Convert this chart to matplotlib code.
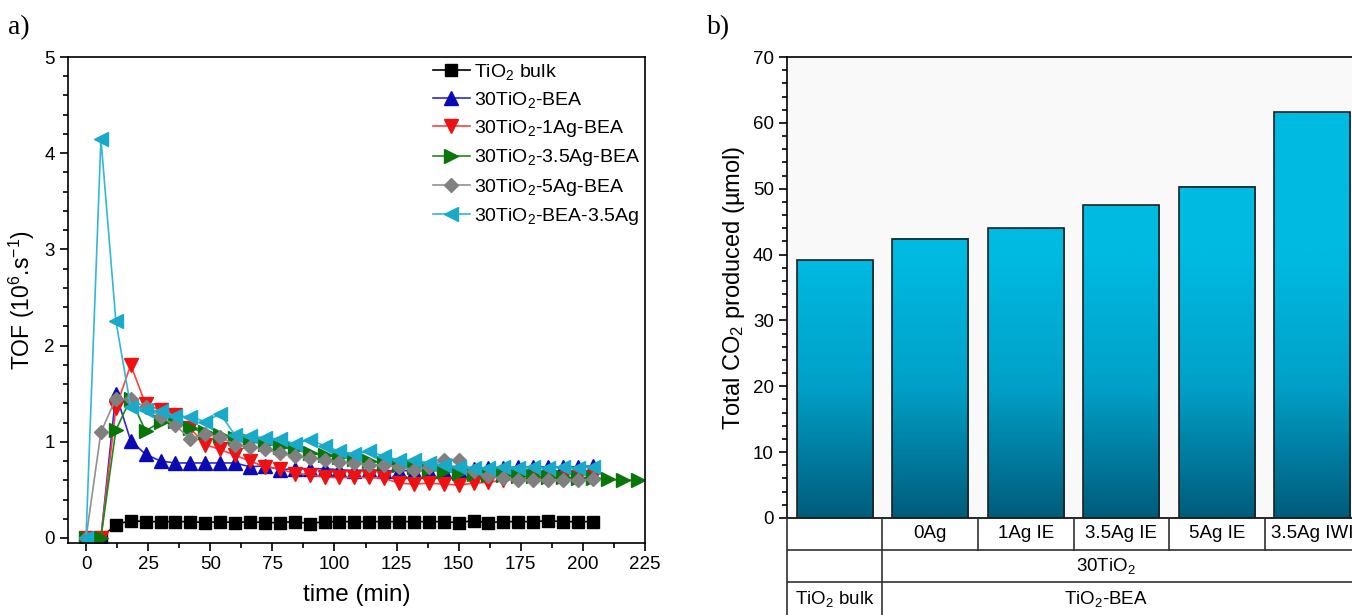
import numpy as np
import matplotlib
matplotlib.use("Agg")
import matplotlib.pyplot as plt
from matplotlib.ticker import MultipleLocator

plt.rcParams['font.family'] = ['Liberation Sans', 'DejaVu Sans']
plt.rcParams['mathtext.fontset'] = 'custom'
plt.rcParams['mathtext.rm'] = 'Liberation Sans'
plt.rcParams['mathtext.it'] = 'Liberation Sans:italic'
plt.rcParams['mathtext.default'] = 'regular'

# ---------------- data: panel a ----------------
time = list(range(0, 205, 6))            # 0..204 min
time_green = list(range(0, 223, 6))      # 0..222 min

tio2_bulk = [0, 0, 0.14, 0.18, 0.17, 0.17, 0.17, 0.17, 0.16, 0.17, 0.16, 0.17, 0.16, 0.16,
             0.17, 0.15, 0.17, 0.17, 0.17, 0.17, 0.17, 0.17, 0.17, 0.17, 0.17, 0.16, 0.18,
             0.16, 0.17, 0.17, 0.17, 0.18, 0.17, 0.17, 0.17]
bea_30 = [0, 0, 1.50, 1.01, 0.87, 0.80, 0.78, 0.78, 0.78, 0.78, 0.78, 0.74, 0.75, 0.71,
          0.72, 0.72, 0.72, 0.71, 0.70, 0.71, 0.70, 0.70, 0.70, 0.70, 0.70, 0.71, 0.72,
          0.73, 0.73, 0.74, 0.74, 0.74, 0.74, 0.74, 0.75]
ag1_bea = [0, 0, 1.35, 1.80, 1.39, 1.33, 1.28, 1.14, 0.97, 0.92, 0.86, 0.80, 0.74, 0.72,
           0.67, 0.66, 0.63, 0.63, 0.63, 0.63, 0.62, 0.57, 0.56, 0.57, 0.56, 0.55, 0.57,
           0.58, 0.60, 0.61, 0.62, 0.62, 0.62, 0.63, 0.63]
ag35_bea = [0, 0, 1.12, 1.45, 1.11, 1.21, 1.22, 1.14, 1.10, 1.07, 1.04, 1.01, 0.98, 0.95,
            0.92, 0.88, 0.86, 0.84, 0.82, 0.80, 0.78, 0.76, 0.74, 0.72, 0.70, 0.68, 0.67,
            0.66, 0.65, 0.64, 0.64, 0.63, 0.63, 0.62, 0.62, 0.61, 0.60, 0.60]
ag5_bea = [0, 1.10, 1.45, 1.44, 1.36, 1.26, 1.17, 1.03, 1.08, 1.05, 0.97, 0.95, 0.92, 0.88,
           0.85, 0.83, 0.81, 0.79, 0.78, 0.76, 0.76, 0.74, 0.71, 0.74, 0.81, 0.81, 0.70,
           0.64, 0.62, 0.60, 0.60, 0.60, 0.60, 0.60, 0.61]
bea_ag35 = [0, 4.15, 2.26, 1.36, 1.33, 1.32, 1.27, 1.26, 1.21, 1.29, 1.07, 1.06, 1.04, 1.03,
            0.98, 1.02, 0.96, 0.90, 0.87, 0.90, 0.85, 0.81, 0.81, 0.78, 0.76, 0.74, 0.73,
            0.73, 0.74, 0.73, 0.74, 0.73, 0.74, 0.73, 0.74]

series_labels = ["TiO$_2$ bulk", "30TiO$_2$-BEA", "30TiO$_2$-1Ag-BEA",
                 "30TiO$_2$-3.5Ag-BEA", "30TiO$_2$-5Ag-BEA", "30TiO$_2$-BEA-3.5Ag"]

# ---------------- data: panel b ----------------
bar_values = [39.1, 42.4, 44.0, 47.5, 50.3, 61.6]
row1_labels = ["", "0Ag", "1Ag IE", "3.5Ag IE", "5Ag IE", "3.5Ag IWI"]
row2_label = "30TiO$_2$"
row3_labels = ["TiO$_2$ bulk", "TiO$_2$-BEA"]

W, H = 1352, 615
fig = plt.figure(figsize=(W / 100, H / 100), dpi=100)

TICK_FS = 13.5
LABEL_FS = 16.5

# ================= panel a =================
ax1 = fig.add_axes([68 / W, 72 / H, 577 / W, 486 / H])
styles = [
    (time, tio2_bulk, 's', 'black', 'black'),
    (time, bea_30, '^', '#0a0ab4', '#2a2ad0'),
    (time, ag1_bea, 'v', '#ee1111', '#ff4040'),
    (time_green, ag35_bea, '>', '#0a760a', '#1a8a1a'),
    (time, ag5_bea, 'D', '#808080', '#909090'),
    (time, bea_ag35, '<', '#19a9c9', '#30b8d8'),
]
for (t, v, m, c, lc), lab in zip(styles, series_labels):
    ms = 9.5
    if m == 'D':
        ms = 7.5
    if m == 's':
        ms = 8
    ax1.plot(t, v, color=lc, lw=1.2, marker=m, markersize=ms, markerfacecolor=c,
             markeredgecolor=c, label=lab)

ax1.set_xlim(-7.25, 225)
ax1.set_ylim(-0.052, 5)
ax1.xaxis.set_major_locator(MultipleLocator(25))
ax1.xaxis.set_minor_locator(MultipleLocator(12.5))
ax1.yaxis.set_major_locator(MultipleLocator(1))
ax1.yaxis.set_minor_locator(MultipleLocator(0.2))
ax1.tick_params(which='both', direction='out', top=False, right=False, labelsize=TICK_FS,
                width=1.2)
ax1.tick_params(which='major', length=6)
ax1.tick_params(which='minor', length=3.5)
for s in ax1.spines.values():
    s.set_linewidth(1.2)
ax1.set_xlabel("time (min)", fontsize=17.5, labelpad=8)
ax1.set_ylabel("TOF (10$^6$.s$^{-1}$)", fontsize=LABEL_FS, labelpad=5)
leg = ax1.legend(loc='upper right', frameon=False, fontsize=14, handlelength=1.9,
                 handletextpad=0.2, labelspacing=0.42, borderaxespad=0.0, borderpad=0.25,
                 bbox_to_anchor=(1.0, 1.0))

fig.text(8 / W, 1 - 28 / H, "a)", family='Liberation Serif', fontsize=20, va='center')
fig.text(707 / W, 1 - 28 / H, "b)", family='Liberation Serif', fontsize=20, va='center')

# ================= panel b =================
ax2 = fig.add_axes([787 / W, 97 / H, 573 / W, 461 / H])
ax2.set_facecolor('#f9f9f9')

top_c = np.array([0, 186, 226]) / 255
mid_c = np.array([0, 160, 200]) / 255
bot_c = np.array([0, 92, 124]) / 255
xs = np.arange(len(bar_values))
bars = ax2.bar(xs, bar_values, width=0.8, facecolor='none', edgecolor='#202020',
               linewidth=1.2, zorder=3)
for b, val in zip(bars, bar_values):
    yy = np.linspace(val, 0, 200)
    f = np.clip(yy / 40.0, 0, 1)
    cols = np.where(f[:, None] > 0.5,
                    mid_c + (top_c - mid_c) * ((f[:, None] - 0.5) / 0.5),
                    bot_c + (mid_c - bot_c) * (f[:, None] / 0.5))
    img = cols[:, None, :]
    x0 = b.get_x()
    ax2.imshow(img, extent=(x0, x0 + b.get_width(), 0, val), aspect='auto',
               interpolation='bilinear', zorder=2)
ax2.set_xlim(-0.5, 5.5)
ax2.set_ylim(0, 70)
ax2.set_xticks([])
ax2.yaxis.set_major_locator(MultipleLocator(10))
ax2.yaxis.set_minor_locator(MultipleLocator(2))
ax2.tick_params(which='both', direction='out', right=False, labelsize=TICK_FS, width=1.2)
ax2.tick_params(which='major', length=6)
ax2.tick_params(which='minor', length=3.5)
for s in ax2.spines.values():
    s.set_linewidth(1.2)
ax2.set_ylabel("Total CO$_2$ produced (µmol)", fontsize=17, labelpad=4)

# table under panel b
axt = fig.add_axes([787 / W, 0, 573 / W, 97 / H])
axt.set_xlim(-0.5, 5.5)
axt.set_ylim(97, 0)
axt.axis('off')
lc = '#303030'
TFS = 13.5
axt.plot([-0.5, -0.5], [0, 97], color=lc, lw=1.2, clip_on=False)
axt.plot([0.5, 0.5], [0, 97], color=lc, lw=1.2)
for xv in [1.5, 2.5, 3.5, 4.5]:
    axt.plot([xv, xv], [0, 32], color=lc, lw=1.2)
for yv in [32, 64]:
    axt.plot([-0.5, 5.5], [yv, yv], color=lc, lw=1.2)
for i, lab in enumerate(row1_labels):
    if lab:
        axt.text(i, 16, lab, ha='center', va='center', fontsize=TFS)
axt.text(2.84, 48, row2_label, ha='center', va='center', fontsize=TFS)
axt.text(0, 81, row3_labels[0], ha='center', va='center', fontsize=TFS)
axt.text(2.84, 81, row3_labels[1], ha='center', va='center', fontsize=TFS)

fig.savefig("out.png", dpi=100)
